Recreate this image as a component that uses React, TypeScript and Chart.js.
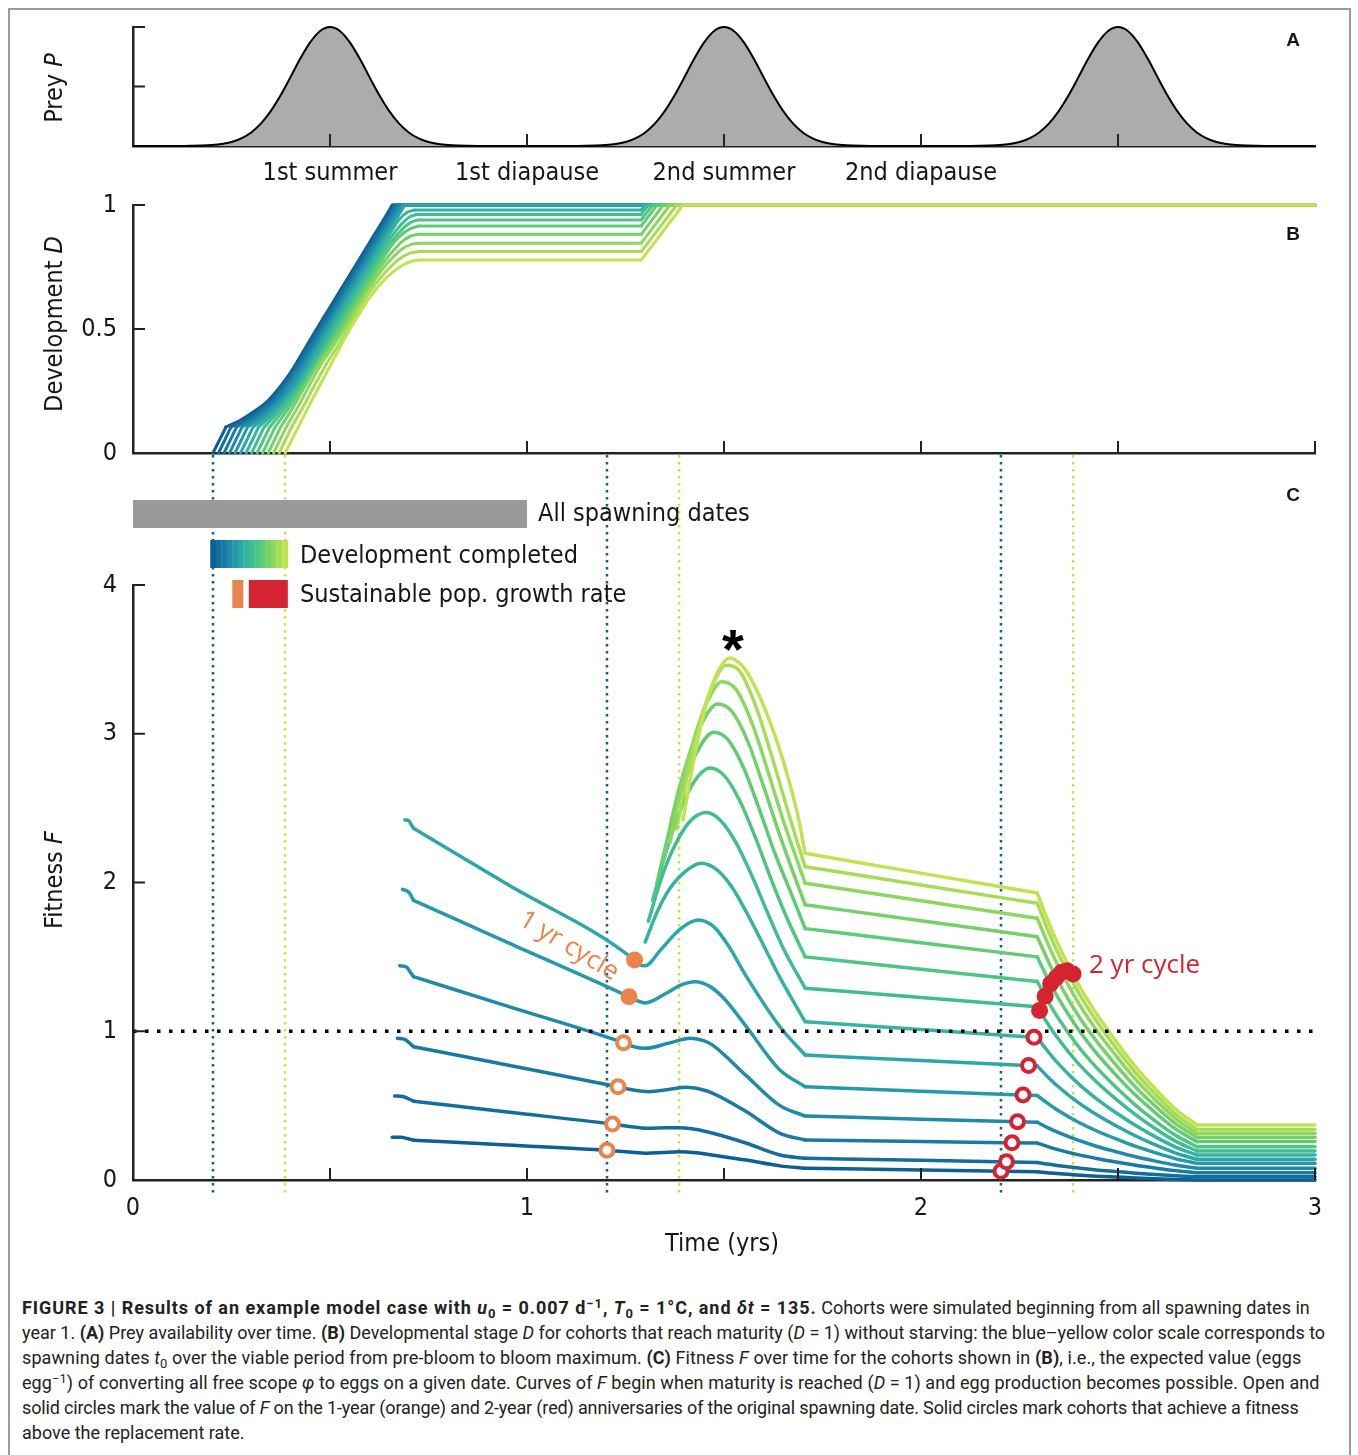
import React, { useEffect, useRef } from 'react';
import { Chart, registerables } from 'chart.js';

Chart.register(...registerables);

// ---------------- data ----------------
const SEASON_TICK_VALUES = [0.5, 1, 1.5, 2, 2.5];
const SEASON_LABELS = ['1st summer', '1st diapause', '2nd summer', '2nd diapause', ''];
const YEAR_TICKS = [0, 1, 2, 3];
const X_TICKS_INWARD = [0.5, 1, 1.5, 2, 2.5, 3];
const D_TICKS_INWARD = [0.5, 1];
const F_TICKS_INWARD = [1, 2, 3, 4];
const PREY_TICKS_INWARD = [0.5, 1];

// prey availability (three identical blooms)
const PREY_PEAK_CENTRES = [0.5, 1.5, 2.5];
const PREY_OFFSETS = [-0.45, -0.4, -0.375, -0.35, -0.325, -0.3, -0.275, -0.25, -0.225, -0.2, -0.175, -0.15, -0.125, -0.1, -0.075, -0.05, -0.025, 0,
  0.025, 0.05, 0.075, 0.1, 0.125, 0.15, 0.175, 0.2, 0.225, 0.25, 0.275, 0.3, 0.325, 0.35, 0.375, 0.4, 0.45];
const PREY_VALUES = [0, 0.0002, 0.0005, 0.0013, 0.0032, 0.0076, 0.0165, 0.0337, 0.0641, 0.114, 0.19, 0.295, 0.428, 0.581, 0.737, 0.873, 0.967, 1,
  0.967, 0.873, 0.737, 0.581, 0.428, 0.295, 0.19, 0.114, 0.0641, 0.0337, 0.0165, 0.0076, 0.0032, 0.0013, 0.0005, 0.0002, 0];

// spawning dates of the 14 cohorts (years)
const SPAWN_DATES = [0.203, 0.217, 0.231, 0.245, 0.259, 0.273, 0.287, 0.301, 0.315, 0.329, 0.343, 0.357, 0.371, 0.386];
const ALL_SPAWN_RANGE = [0, 1];
const REPLACEMENT_RATE = 1;

// development D: [t, D, corner?]
const B_C1 = [[0.203, 0], [0.236, 0.105, 1], [0.27, 0.13], [0.305, 0.165], [0.345, 0.215], [0.40, 0.325], [0.45, 0.458], [0.50, 0.588], [0.55, 0.718], [0.60, 0.848], [0.63, 0.925], [0.658, 1, 1], [3, 1]];
const B_C2 = [[0.217, 0], [0.249, 0.105, 1], [0.284, 0.132], [0.319, 0.17], [0.359, 0.225], [0.41, 0.339], [0.46, 0.469], [0.51, 0.599], [0.56, 0.729], [0.61, 0.859], [0.64, 0.937], [0.664, 1, 1], [3, 1]];
const B_C3 = [[0.231, 0], [0.263, 0.105, 1], [0.298, 0.135], [0.333, 0.175], [0.373, 0.235], [0.42, 0.345], [0.47, 0.477], [0.52, 0.607], [0.57, 0.737], [0.62, 0.867], [0.648, 0.94], [0.671, 1, 1], [3, 1]];
const B_C4 = [[0.245, 0], [0.277, 0.105, 1], [0.312, 0.138], [0.347, 0.182], [0.387, 0.245], [0.43, 0.35], [0.48, 0.487], [0.53, 0.617], [0.58, 0.747], [0.63, 0.877], [0.655, 0.943], [0.677, 1, 1], [3, 1]];
const B_C5 = [[0.259, 0], [0.291, 0.105, 1], [0.326, 0.142], [0.361, 0.19], [0.40, 0.26], [0.44, 0.36], [0.49, 0.495], [0.54, 0.625], [0.59, 0.755], [0.64, 0.885], [0.662, 0.944], [0.684, 1, 1], [3, 1]];
const B_C6 = [[0.273, 0], [0.305, 0.105, 1], [0.34, 0.148], [0.375, 0.2], [0.41, 0.268], [0.45, 0.37], [0.50, 0.505], [0.55, 0.635], [0.60, 0.765], [0.645, 0.882], [0.668, 0.943], [0.69, 1, 1], [3, 1]];
const B_C7 = [[0.287, 0], [0.319, 0.105, 1], [0.354, 0.155], [0.389, 0.213], [0.425, 0.285], [0.46, 0.375], [0.51, 0.516], [0.56, 0.646], [0.61, 0.776], [0.65, 0.88], [0.675, 0.94], [0.695, 0.97], [0.715, 0.98, 1], [1.29, 0.98, 1], [1.30, 1, 1], [3, 1]];
const B_C8 = [[0.301, 0], [0.333, 0.105, 1], [0.368, 0.163], [0.403, 0.228], [0.44, 0.31], [0.47, 0.385], [0.52, 0.523], [0.57, 0.653], [0.62, 0.783], [0.655, 0.87], [0.68, 0.92], [0.70, 0.95], [0.72, 0.962, 1], [1.29, 0.962, 1], [1.308, 1, 1], [3, 1]];
const B_C9 = [[0.315, 0], [0.347, 0.105, 1], [0.382, 0.172], [0.417, 0.245], [0.45, 0.325], [0.48, 0.40], [0.53, 0.534], [0.58, 0.664], [0.625, 0.78], [0.66, 0.86], [0.685, 0.905], [0.705, 0.93], [0.725, 0.94, 1], [1.29, 0.94, 1], [1.319, 1, 1], [3, 1]];
const B_C10 = [[0.329, 0], [0.361, 0.105, 1], [0.396, 0.183], [0.43, 0.265], [0.46, 0.34], [0.49, 0.415], [0.54, 0.544], [0.59, 0.674], [0.63, 0.775], [0.66, 0.845], [0.685, 0.885], [0.705, 0.905], [0.725, 0.915, 1], [1.29, 0.915, 1], [1.33, 1, 1], [3, 1]];
const B_C11 = [[0.343, 0], [0.375, 0.105, 1], [0.41, 0.195], [0.44, 0.28], [0.47, 0.36], [0.50, 0.43], [0.55, 0.552], [0.595, 0.669], [0.63, 0.755], [0.66, 0.815], [0.685, 0.855], [0.705, 0.875], [0.725, 0.882, 1], [1.29, 0.882, 1], [1.346, 1, 1], [3, 1]];
const B_C12 = [[0.357, 0], [0.389, 0.105, 1], [0.42, 0.19], [0.45, 0.28], [0.48, 0.365], [0.51, 0.435], [0.56, 0.562], [0.60, 0.666], [0.63, 0.735], [0.66, 0.79], [0.685, 0.825], [0.705, 0.84], [0.725, 0.846, 1], [1.29, 0.846, 1], [1.363, 1, 1], [3, 1]];
const B_C13 = [[0.371, 0], [0.403, 0.105, 1], [0.435, 0.195], [0.465, 0.285], [0.495, 0.37], [0.525, 0.445], [0.57, 0.57], [0.60, 0.648], [0.63, 0.71], [0.66, 0.76], [0.685, 0.792], [0.705, 0.807], [0.725, 0.812, 1], [1.29, 0.812, 1], [1.38, 1, 1], [3, 1]];
const B_C14 = [[0.386, 0], [0.418, 0.10, 1], [0.45, 0.20], [0.48, 0.29], [0.51, 0.38], [0.54, 0.47], [0.57, 0.55], [0.60, 0.625], [0.63, 0.685], [0.66, 0.73], [0.685, 0.758], [0.705, 0.772], [0.725, 0.778, 1], [1.29, 0.778, 1], [1.396, 1, 1], [3, 1]];

// fitness F: [t, F, corner?]
const C_C1 = [[0.658, 0.287], [0.68, 0.287], [0.696, 0.279], [0.712, 0.268, 1], [0.95, 0.235], [1.203, 0.20], [1.26, 0.188], [1.305, 0.18], [1.345, 0.185], [1.385, 0.19], [1.43, 0.183], [1.47, 0.168], [1.557, 0.134], [1.642, 0.095], [1.706, 0.079, 1], [2.0, 0.067], [2.295, 0.055, 1], [2.32, 0.049], [2.345, 0.043], [2.395, 0.034], [2.445, 0.026], [2.495, 0.02], [2.545, 0.014], [2.595, 0.009], [2.645, 0.004], [2.70, 0, 1], [3, 0]];
const C_C2 = [[0.664, 0.565], [0.685, 0.562], [0.698, 0.548], [0.712, 0.53, 1], [0.95, 0.457], [1.217, 0.376], [1.26, 0.36], [1.305, 0.348], [1.35, 0.351], [1.39, 0.352], [1.43, 0.34], [1.472, 0.314], [1.557, 0.247], [1.642, 0.168], [1.706, 0.146, 1], [2.0, 0.132], [2.295, 0.118, 1], [2.32, 0.107], [2.345, 0.098], [2.395, 0.082], [2.445, 0.068], [2.495, 0.057], [2.545, 0.046], [2.595, 0.037], [2.645, 0.029], [2.70, 0.022, 1], [3, 0.022]];
const C_C3 = [[0.671, 0.953], [0.69, 0.945], [0.70, 0.925], [0.712, 0.896, 1], [0.95, 0.773], [1.231, 0.627], [1.27, 0.605], [1.31, 0.594], [1.36, 0.608], [1.404, 0.623], [1.44, 0.61], [1.472, 0.583], [1.557, 0.459], [1.642, 0.314], [1.706, 0.269, 1], [2.0, 0.258], [2.295, 0.248, 1], [2.32, 0.226], [2.345, 0.206], [2.395, 0.172], [2.445, 0.145], [2.495, 0.121], [2.545, 0.099], [2.595, 0.08], [2.645, 0.063], [2.70, 0.049, 1], [3, 0.049]];
const C_C4 = [[0.677, 1.44], [0.695, 1.43], [0.703, 1.40], [0.712, 1.367, 1], [0.95, 1.169], [1.245, 0.923], [1.27, 0.897], [1.30, 0.885], [1.36, 0.92], [1.415, 0.953], [1.45, 0.935], [1.472, 0.905], [1.557, 0.70], [1.642, 0.50], [1.706, 0.43, 1], [2.0, 0.409], [2.295, 0.388, 1], [2.32, 0.354], [2.345, 0.323], [2.395, 0.271], [2.445, 0.227], [2.495, 0.19], [2.545, 0.156], [2.595, 0.127], [2.645, 0.101], [2.70, 0.079, 1], [3, 0.079]];
const C_C5 = [[0.684, 1.954], [0.70, 1.935], [0.706, 1.91], [0.712, 1.88, 1], [0.95, 1.598], [1.259, 1.232], [1.28, 1.205], [1.30, 1.19], [1.35, 1.25], [1.39, 1.31], [1.427, 1.333], [1.465, 1.30], [1.50, 1.22], [1.557, 1.03], [1.642, 0.739], [1.706, 0.627, 1], [2.0, 0.597], [2.295, 0.568, 1], [2.32, 0.518], [2.345, 0.472], [2.395, 0.395], [2.445, 0.331], [2.495, 0.276], [2.545, 0.226], [2.595, 0.183], [2.645, 0.144], [2.70, 0.112, 1], [3, 0.112]];
const C_C6 = [[0.69, 2.42], [0.70, 2.415], [0.706, 2.39], [0.712, 2.364, 1], [0.95, 1.988], [1.273, 1.479], [1.285, 1.447], [1.30, 1.44], [1.34, 1.55], [1.39, 1.69], [1.436, 1.748], [1.475, 1.70], [1.51, 1.58], [1.557, 1.367], [1.642, 1.03], [1.706, 0.84, 1], [2.0, 0.803], [2.295, 0.767, 1], [2.32, 0.698], [2.345, 0.635], [2.395, 0.528], [2.445, 0.44], [2.495, 0.365], [2.545, 0.296], [2.595, 0.236], [2.645, 0.183], [2.70, 0.139, 1], [3, 0.139]];
const C_C7 = [[1.30, 1.60], [1.33, 1.80], [1.36, 1.95], [1.40, 2.07], [1.442, 2.13], [1.48, 2.09], [1.52, 1.97], [1.557, 1.80], [1.60, 1.58], [1.642, 1.36], [1.706, 1.064, 1], [2.0, 1.011], [2.295, 0.958, 1], [2.32, 0.871], [2.345, 0.792], [2.395, 0.658], [2.445, 0.547], [2.495, 0.452], [2.545, 0.366], [2.595, 0.29], [2.645, 0.223], [2.70, 0.168, 1], [3, 0.168]];
const C_C8 = [[1.308, 1.74], [1.34, 2.02], [1.37, 2.22], [1.41, 2.40], [1.455, 2.47], [1.49, 2.42], [1.53, 2.27], [1.57, 2.05], [1.61, 1.80], [1.65, 1.56], [1.706, 1.289, 1], [2.0, 1.227], [2.295, 1.165, 1], [2.32, 1.058], [2.345, 0.961], [2.395, 0.796], [2.445, 0.661], [2.495, 0.544], [2.545, 0.438], [2.595, 0.345], [2.645, 0.263], [2.70, 0.195, 1], [3, 0.195]];
const C_C9 = [[1.319, 1.88], [1.35, 2.18], [1.38, 2.42], [1.42, 2.66], [1.465, 2.77], [1.50, 2.72], [1.54, 2.55], [1.58, 2.30], [1.62, 2.02], [1.66, 1.76], [1.706, 1.50, 1], [2.0, 1.417], [2.295, 1.335, 1], [2.32, 1.213], [2.345, 1.102], [2.395, 0.913], [2.445, 0.757], [2.495, 0.624], [2.545, 0.502], [2.595, 0.396], [2.645, 0.302], [2.70, 0.224, 1], [3, 0.224]];
const C_C10 = [[1.33, 2.0], [1.36, 2.33], [1.39, 2.60], [1.43, 2.87], [1.474, 3.01], [1.51, 2.96], [1.55, 2.77], [1.59, 2.49], [1.63, 2.19], [1.67, 1.93], [1.706, 1.69, 1], [2.0, 1.595], [2.295, 1.50, 1], [2.32, 1.363], [2.345, 1.239], [2.395, 1.028], [2.445, 0.854], [2.495, 0.705], [2.545, 0.569], [2.595, 0.451], [2.645, 0.345], [2.70, 0.258, 1], [3, 0.258]];
const C_C11 = [[1.346, 2.14], [1.37, 2.46], [1.40, 2.76], [1.44, 3.05], [1.484, 3.20], [1.52, 3.15], [1.56, 2.95], [1.60, 2.65], [1.64, 2.33], [1.675, 2.07], [1.706, 1.85, 1], [2.0, 1.743], [2.295, 1.636, 1], [2.32, 1.488], [2.345, 1.353], [2.395, 1.123], [2.445, 0.935], [2.495, 0.773], [2.545, 0.624], [2.595, 0.496], [2.645, 0.381], [2.70, 0.287, 1], [3, 0.287]];
const C_C12 = [[1.363, 2.27], [1.39, 2.62], [1.42, 2.93], [1.455, 3.20], [1.495, 3.35], [1.53, 3.30], [1.57, 3.08], [1.61, 2.76], [1.65, 2.42], [1.68, 2.19], [1.706, 1.995, 1], [2.0, 1.877], [2.295, 1.76, 1], [2.32, 1.601], [2.345, 1.456], [2.395, 1.211], [2.445, 1.008], [2.495, 0.835], [2.545, 0.676], [2.595, 0.538], [2.645, 0.415], [2.70, 0.314, 1], [3, 0.314]];
const C_C13 = [[1.38, 2.36], [1.41, 2.76], [1.44, 3.08], [1.47, 3.32], [1.505, 3.46], [1.54, 3.42], [1.58, 3.19], [1.62, 2.86], [1.66, 2.50], [1.685, 2.28], [1.706, 2.106, 1], [2.0, 1.983], [2.295, 1.86, 1], [2.32, 1.693], [2.345, 1.541], [2.395, 1.282], [2.445, 1.07], [2.495, 0.887], [2.545, 0.72], [2.595, 0.576], [2.645, 0.446], [2.70, 0.34, 1], [3, 0.34]];
const C_C14 = [[1.396, 2.42], [1.425, 2.85], [1.455, 3.20], [1.485, 3.42], [1.515, 3.51], [1.545, 3.46], [1.566, 3.38], [1.608, 3.14], [1.65, 2.82], [1.69, 2.42], [1.706, 2.196, 1], [2.0, 2.063], [2.295, 1.93, 1], [2.32, 1.758], [2.345, 1.602], [2.395, 1.337], [2.445, 1.119], [2.495, 0.932], [2.545, 0.76], [2.595, 0.612], [2.645, 0.479], [2.70, 0.37, 1], [3, 0.37]];

// F on the 1-year (cohorts 1-6) and 2-year (cohorts 1-14) anniversaries
const ONE_YEAR_F = [0.20, 0.376, 0.627, 0.923, 1.232, 1.479];
const TWO_YEAR_F = [0.059, 0.122, 0.25, 0.392, 0.572, 0.77, 0.959, 1.14, 1.235, 1.32, 1.36, 1.397, 1.406, 1.385];

const B_CURVES = [B_C1, B_C2, B_C3, B_C4, B_C5, B_C6, B_C7, B_C8, B_C9, B_C10, B_C11, B_C12, B_C13, B_C14];
const C_CURVES = [C_C1, C_C2, C_C3, C_C4, C_C5, C_C6, C_C7, C_C8, C_C9, C_C10, C_C11, C_C12, C_C13, C_C14];

// ---------------- style ----------------
const COHORT_COLORS = ['#0e5f94', '#136d9d', '#187ba4', '#1f8aa9', '#2699ab', '#2ca7a9', '#34b3a0', '#3ebd93', '#4cc585', '#5ecb76', '#74d168', '#8cd75d', '#a7dd55', '#c2e350'];
const COND = '"DejaVu Sans Condensed", "Liberation Sans Narrow", "DejaVu Sans", sans-serif';
const CYCLE_FONT = '"Open Sans", "Noto Sans", sans-serif';
const LETTER_FONT = '"Liberation Sans", Arial, sans-serif';
const INK = '#161616';
const AXIS_INK = '#222222';
const ORANGE = '#e8844c';
const RED = '#d42432';
const GREY_BAR = '#9a9a9a';
const PREY_FILL = '#acacac';
const PAGE_W = 1358;
const PLOT_LEFT = 133;
const PLOT_RIGHT = 1315;
const TICK_LEN = 12;
const HALF_STEP = 0.007;

const GEO_A = { top: 0, height: 200, areaTop: 27, areaBottom: 146, xAxisH: 54 };
const GEO_B = { top: 168, height: 323, areaTop: 205, areaBottom: 453, xAxisH: 35 };
const GEO_C = { top: 455, height: 835, areaTop: 585, areaBottom: 1180, xAxisH: 100 };

function toSegments(points: number[][]) {
  const segs: { x: number; y: number }[][] = [];
  let cur: { x: number; y: number }[] = [];
  for (const p of points) {
    cur.push({ x: p[0], y: p[1] });
    if (p[2] && cur.length > 1) {
      segs.push(cur);
      cur = [{ x: p[0], y: p[1] }];
    }
  }
  if (cur.length > 1) segs.push(cur);
  return segs;
}

function curveDatasets(curves: number[][][], width: number) {
  const out: any[] = [];
  curves.forEach((pts, i) => {
    toSegments(pts).forEach((seg) => {
      out.push({
        data: seg,
        borderColor: COHORT_COLORS[i],
        borderWidth: width,
        pointRadius: 0,
        fill: false,
        cubicInterpolationMode: 'monotone',
        borderCapStyle: 'round',
        borderJoinStyle: 'round',
        clip: false,
        order: 100 + (curves.length - 1 - i),
      });
    });
  });
  return out;
}

function drawInwardTicks(chart: any, xs: number[], ys: number[]) {
  const { ctx, chartArea: a, scales } = chart;
  ctx.save();
  ctx.strokeStyle = AXIS_INK;
  ctx.lineWidth = 2;
  for (const v of xs) {
    const px = scales.x.getPixelForValue(v);
    ctx.beginPath();
    ctx.moveTo(px, a.bottom);
    ctx.lineTo(px, a.bottom - TICK_LEN);
    ctx.stroke();
  }
  for (const v of ys) {
    const py = scales.y.getPixelForValue(v);
    ctx.beginPath();
    ctx.moveTo(a.left, py);
    ctx.lineTo(a.left + TICK_LEN, py);
    ctx.stroke();
  }
  ctx.restore();
}

function drawMixed(ctx: any, cx: number, cy: number, parts: [string, boolean][], size: number, rotate: boolean) {
  ctx.save();
  ctx.translate(cx, cy);
  if (rotate) ctx.rotate(-Math.PI / 2);
  ctx.fillStyle = INK;
  ctx.textBaseline = 'middle';
  ctx.textAlign = 'left';
  const fonts = parts.map(([, it]) => `${it ? 'italic ' : ''}${size}px ${COND}`);
  const widths = parts.map(([s], k) => {
    ctx.font = fonts[k];
    return ctx.measureText(s).width;
  });
  let x = -widths.reduce((a, b) => a + b, 0) / 2;
  parts.forEach(([s], k) => {
    ctx.font = fonts[k];
    ctx.fillText(s, x, 0);
    x += widths[k];
  });
  ctx.restore();
}

function drawLetter(ctx: any, s: string, x: number, y: number) {
  ctx.save();
  ctx.fillStyle = INK;
  ctx.font = `bold 19px ${LETTER_FONT}`;
  ctx.textAlign = 'center';
  ctx.textBaseline = 'middle';
  ctx.fillText(s, x, y);
  ctx.restore();
}

function makeOptions(geo: any, xOpts: any, yOpts: any) {
  const border = { display: true, color: AXIS_INK, width: 2.5 };
  const grid = { display: false, drawTicks: false };
  return {
    responsive: false,
    animation: false,
    devicePixelRatio: 1,
    events: [],
    layout: {
      padding: {
        left: 0,
        right: PAGE_W - PLOT_RIGHT,
        top: geo.areaTop - geo.top,
        bottom: geo.height - (geo.areaBottom - geo.top) - geo.xAxisH,
      },
    },
    plugins: { legend: { display: false }, tooltip: { enabled: false } },
    scales: {
      x: {
        type: 'linear', min: 0, max: 3,
        grid, border,
        afterFit: (s: any) => { s.height = geo.xAxisH; },
        ...xOpts,
      },
      y: {
        type: 'linear',
        grid, border,
        afterFit: (s: any) => { s.width = PLOT_LEFT; },
        ...yOpts,
      },
    },
  };
}

const plainNumber = (v: any) => String(Number(v));

function configA() {
  const pts: { x: number; y: number }[] = [{ x: 0, y: 0 }];
  PREY_PEAK_CENTRES.forEach((c) => PREY_OFFSETS.forEach((o, k) => pts.push({ x: c + o, y: PREY_VALUES[k] })));
  pts.push({ x: 3, y: 0 });
  return {
    type: 'line',
    data: {
      datasets: [{
        data: pts, borderColor: '#000', borderWidth: 2, backgroundColor: PREY_FILL,
        fill: 'origin', pointRadius: 0, cubicInterpolationMode: 'monotone', clip: false,
      }],
    },
    options: makeOptions(GEO_A,
      {
        ticks: {
          stepSize: 0.5, autoSkip: false, maxRotation: 0, padding: 12, color: INK,
          font: { family: COND, size: 25 },
          callback: (v: any) => {
            const i = SEASON_TICK_VALUES.indexOf(Number(v));
            return i >= 0 ? SEASON_LABELS[i] : '';
          },
        },
      },
      { min: 0, max: 1, ticks: { display: false, stepSize: 0.5 } }),
    plugins: [{
      id: 'decorA',
      afterDraw(chart: any) {
        drawInwardTicks(chart, SEASON_TICK_VALUES, PREY_TICKS_INWARD);
        drawMixed(chart.ctx, 55, 88 - GEO_A.top, [['Prey ', false], ['P', true]], 25, true);
        drawLetter(chart.ctx, 'A', 1293, 41 - GEO_A.top);
      },
    }],
  };
}

function configB() {
  return {
    type: 'line',
    data: { datasets: curveDatasets(B_CURVES, 3) },
    options: makeOptions(GEO_B,
      { ticks: { display: false, stepSize: 0.5 } },
      { min: 0, max: 1, ticks: { stepSize: 0.5, padding: 16, color: INK, font: { family: COND, size: 25 }, callback: plainNumber } }),
    plugins: [{
      id: 'decorB',
      afterDraw(chart: any) {
        drawInwardTicks(chart, X_TICKS_INWARD, D_TICKS_INWARD);
        drawMixed(chart.ctx, 55, 324 - GEO_B.top, [['Development ', false], ['D', true]], 25, true);
        drawLetter(chart.ctx, 'B', 1293, 235 - GEO_B.top);
      },
    }],
  };
}

function configC() {
  const oneYear = ONE_YEAR_F.map((f, i) => ({ x: SPAWN_DATES[i] + 1, y: f }));
  const twoYear = TWO_YEAR_F.map((f, i) => ({ x: SPAWN_DATES[i] + 2, y: f }));
  const dotStyle = (vals: number[], color: string) => ({
    showLine: false,
    pointRadius: vals.map((f) => (f > REPLACEMENT_RATE ? 8.5 : 6.5)),
    pointBackgroundColor: vals.map((f) => (f > REPLACEMENT_RATE ? color : '#ffffff')),
    pointBorderColor: color,
    pointBorderWidth: vals.map((f) => (f > REPLACEMENT_RATE ? 0 : 4)),
    clip: false,
  });
  const datasets = [
    ...curveDatasets(C_CURVES, 3.5),
    {
      data: [{ x: 0, y: REPLACEMENT_RATE }, { x: 3, y: REPLACEMENT_RATE }],
      borderColor: '#000', borderWidth: 3.5, borderDash: [3.5, 8.5], borderCapStyle: 'butt',
      pointRadius: 0, fill: false, order: 50, clip: false,
    },
    { data: oneYear, ...dotStyle(ONE_YEAR_F, ORANGE), order: 11 },
    { data: twoYear, ...dotStyle(TWO_YEAR_F, RED), order: 10 },
  ];
  const top = GEO_C.top;
  return {
    type: 'line',
    data: { datasets },
    options: makeOptions(GEO_C,
      {
        ticks: {
          stepSize: 0.5, autoSkip: false, maxRotation: 0, padding: 13, color: INK,
          font: { family: COND, size: 25 },
          callback: (v: any) => (YEAR_TICKS.includes(Number(v)) ? String(v) : ''),
        },
      },
      { min: 0, max: 4, ticks: { stepSize: 1, padding: 16, color: INK, font: { family: COND, size: 25 }, callback: plainNumber } }),
    plugins: [{
      id: 'decorC',
      beforeDatasetsDraw(chart: any) {
        const { ctx, scales } = chart;
        const xs = scales.x;
        ctx.save();
        // anniversary guide lines of first and last spawning dates
        const first = SPAWN_DATES[0];
        const last = SPAWN_DATES[SPAWN_DATES.length - 1];
        [0, 1, 2].forEach((k) => {
          [[first + k, COHORT_COLORS[0]], [last + k, COHORT_COLORS[COHORT_COLORS.length - 1]]].forEach(([t, col]: any) => {
            const px = xs.getPixelForValue(t);
            ctx.strokeStyle = col;
            ctx.lineWidth = 2.5;
            ctx.setLineDash([2.5, 4.5]);
            ctx.beginPath();
            ctx.moveTo(px, 0);
            ctx.lineTo(px, 1195 - top);
            ctx.stroke();
          });
        });
        ctx.setLineDash([]);
        // legend
        const bar = (t0: number, t1: number, y0: number, y1: number, col: string) => {
          const a = xs.getPixelForValue(t0);
          const b = xs.getPixelForValue(t1);
          ctx.fillStyle = col;
          ctx.fillRect(a, y0 - top, b - a, y1 - y0);
        };
        bar(ALL_SPAWN_RANGE[0], ALL_SPAWN_RANGE[1], 500, 528, GREY_BAR);
        SPAWN_DATES.forEach((t, i) => bar(t - HALF_STEP, t + HALF_STEP + 0.001, 540, 568, COHORT_COLORS[i]));
        const oneIdx = ONE_YEAR_F.map((f, i) => (f > REPLACEMENT_RATE ? i : -1)).filter((i) => i >= 0);
        const twoIdx = TWO_YEAR_F.map((f, i) => (f > REPLACEMENT_RATE ? i : -1)).filter((i) => i >= 0);
        bar(SPAWN_DATES[oneIdx[0]] - HALF_STEP, SPAWN_DATES[oneIdx[oneIdx.length - 1]] + HALF_STEP, 580, 608, ORANGE);
        bar(SPAWN_DATES[twoIdx[0]] - HALF_STEP, SPAWN_DATES[twoIdx[twoIdx.length - 1]] + HALF_STEP, 580, 608, RED);
        ctx.fillStyle = INK;
        ctx.font = `25px ${COND}`;
        ctx.textAlign = 'left';
        ctx.textBaseline = 'middle';
        ctx.fillText('All spawning dates', 538, 514 - top);
        ctx.fillText('Development completed', 300, 556 - top);
        ctx.fillText('Sustainable pop. growth rate', 300, 595 - top);
        ctx.restore();
      },
      afterDraw(chart: any) {
        const { ctx } = chart;
        drawInwardTicks(chart, X_TICKS_INWARD, F_TICKS_INWARD);
        drawMixed(ctx, 55, 880 - top, [['Fitness ', false], ['F', true]], 25, true);
        drawMixed(ctx, 722, 1244 - top, [['Time (yrs)', false]], 25, false);
        drawLetter(ctx, 'C', 1293, 496 - top);
        ctx.save();
        ctx.fillStyle = '#000';
        ctx.font = `bold 56px ${LETTER_FONT}`;
        ctx.textAlign = 'center';
        ctx.textBaseline = 'alphabetic';
        ctx.fillText('*', 733, 668 - top);
        ctx.font = `26px ${CYCLE_FONT}`;
        ctx.textBaseline = 'middle';
        ctx.fillStyle = RED;
        ctx.textAlign = 'left';
        ctx.fillText('2 yr cycle', 1089, 966 - top);
        ctx.translate(569, 946 - top);
        ctx.rotate(0.54);
        ctx.fillStyle = ORANGE;
        ctx.textAlign = 'center';
        ctx.fillText('1 yr cycle', 0, 0);
        ctx.restore();
      },
    }],
  };
}

const subStyle: React.CSSProperties = { fontSize: '0.72em', position: 'relative', top: '0.3em', lineHeight: 0 };
const supStyle: React.CSSProperties = { fontSize: '0.72em', position: 'relative', top: '-0.45em', lineHeight: 0 };

export default function App() {
  const aRef = useRef<HTMLCanvasElement>(null);
  const bRef = useRef<HTMLCanvasElement>(null);
  const cRef = useRef<HTMLCanvasElement>(null);

  useEffect(() => {
    const charts = [
      new Chart(aRef.current as any, configA() as any),
      new Chart(bRef.current as any, configB() as any),
      new Chart(cRef.current as any, configC() as any),
    ];
    return () => charts.forEach((c) => c.destroy());
  }, []);

  const canvasStyle = (geo: any): React.CSSProperties => ({ position: 'absolute', left: 0, top: geo.top, width: PAGE_W, height: geo.height });

  return (
    <div style={{ position: 'absolute', left: 0, top: 0, width: PAGE_W, height: 1455, overflow: 'hidden', background: '#fff' }}>
      <div style={{ position: 'absolute', left: 8, top: 8, width: 1343, height: 1470, border: '2px solid #9a9a9a', boxSizing: 'border-box' }} />
      <canvas ref={aRef} width={PAGE_W} height={GEO_A.height} style={canvasStyle(GEO_A)} />
      <canvas ref={bRef} width={PAGE_W} height={GEO_B.height} style={canvasStyle(GEO_B)} />
      <canvas ref={cRef} width={PAGE_W} height={GEO_C.height} style={canvasStyle(GEO_C)} />
      <div style={{ position: 'absolute', left: 22, top: 1295, font: '18px Roboto, "Liberation Sans", sans-serif', lineHeight: '25px', color: '#222', whiteSpace: 'nowrap' }}>
        <div><b style={{ letterSpacing: '0.95px' }}>FIGURE 3 | Results of an example model case with <i>u</i><span style={subStyle}>0</span> = 0.007 d<span style={supStyle}>−1</span>, <i>T</i><span style={subStyle}>0</span> = 1°C, and <i>δt</i> = 135.</b> Cohorts were simulated beginning from all spawning dates in</div>
        <div>year 1. <b>(A)</b> Prey availability over time. <b>(B)</b> Developmental stage <i>D</i> for cohorts that reach maturity (<i>D</i> = 1) without starving: the blue–yellow color scale corresponds to</div>
        <div style={{ letterSpacing: '0.1px' }}>spawning dates <i>t</i><span style={subStyle}>0</span> over the viable period from pre-bloom to bloom maximum. <b>(C)</b> Fitness <i>F</i> over time for the cohorts shown in <b>(B)</b>, i.e., the expected value (eggs</div>
        <div style={{ letterSpacing: '0.08px' }}>egg<span style={supStyle}>−1</span>) of converting all free scope <i>φ</i> to eggs on a given date. Curves of <i>F</i> begin when maturity is reached (<i>D</i> = 1) and egg production becomes possible. Open and</div>
        <div style={{ letterSpacing: '-0.15px' }}>solid circles mark the value of <i>F</i> on the 1-year (orange) and 2-year (red) anniversaries of the original spawning date. Solid circles mark cohorts that achieve a fitness</div>
        <div>above the replacement rate.</div>
      </div>
    </div>
  );
}
